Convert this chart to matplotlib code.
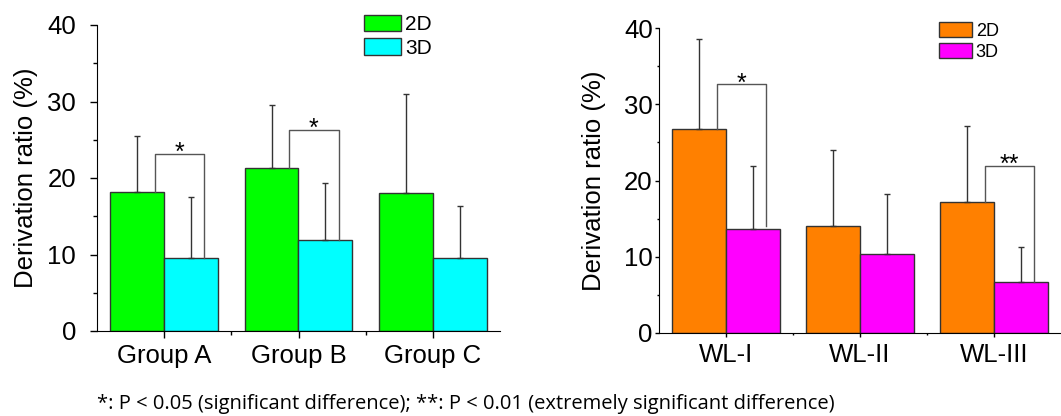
import matplotlib.pyplot as plt
import numpy as np
from matplotlib.ticker import MultipleLocator, FixedLocator

plt.rcParams['font.family'] = ['Liberation Sans', 'DejaVu Sans']

groups = ["Group A", "Group B", "Group C"]
grp_2d = [18.2, 21.3, 18.1]
grp_2d_err = [7.3, 8.3, 12.9]
grp_3d = [9.5, 11.9, 9.5]
grp_3d_err = [8.0, 7.4, 6.9]
# (category index, bracket top, left leg bottom, right leg bottom, label)
grp_sig = [(0, 23.2, 18.2, 9.5, "*"), (1, 26.3, 21.3, 11.9, "*")]

wl = ["WL-I", "WL-II", "WL-III"]
wl_2d = [26.7, 14.0, 17.2]
wl_2d_err = [11.8, 10.0, 10.0]
wl_3d = [13.6, 10.4, 6.7]
wl_3d_err = [8.3, 7.8, 4.6]
wl_sig = [(0, 32.6, 26.7, 14.0, "*"), (2, 21.9, 17.2, 6.7, "**")]

note = "*: P < 0.05 (significant difference); **: P < 0.01 (extremely significant difference)"


def draw_panel(ax, labels, v2, e2, v3, e3, sig, c2, c3, leg_anchor, leg_size, hl, hh,
               tlen, ypad, lpad):
    x = np.arange(len(labels))
    w = 0.4
    ekw = dict(ecolor="#333333", elinewidth=1.0, capsize=2.5, capthick=1.0)
    ax.bar(x - w / 2, v2, w, color=c2, edgecolor="#333333", linewidth=1.0, label="2D",
           yerr=[np.zeros(len(e2)), e2], error_kw=ekw)
    ax.bar(x + w / 2, v3, w, color=c3, edgecolor="#333333", linewidth=1.0, label="3D",
           yerr=[np.zeros(len(e3)), e3], error_kw=ekw)
    for i, top, lo1, lo2, txt in sig:
        xl, xr = i - 0.07, i + 0.3
        ax.plot([xl, xl, xr, xr], [lo1, top, top, lo2], color="#555555", lw=1.0)
        ax.text((xl + xr) / 2, top - 0.8, txt, ha="center", va="baseline", fontsize=18)
    ax.set_xlim(-0.5, 2.5)
    ax.set_ylim(0, 40)
    ax.spines["top"].set_visible(False)
    ax.spines["right"].set_visible(False)
    ax.yaxis.set_major_locator(MultipleLocator(10))
    ax.yaxis.set_minor_locator(MultipleLocator(5))
    ax.set_xticks(x)
    ax.set_xticklabels(labels)
    ax.xaxis.set_minor_locator(FixedLocator([0.5, 1.5]))
    ax.tick_params(axis="both", which="major", direction="out", length=tlen, width=1, labelsize=18.5)
    ax.tick_params(axis="both", which="minor", direction="out", length=tlen * 0.6, width=1)
    ax.tick_params(axis="y", which="major", pad=ypad)
    ax.tick_params(axis="x", which="major", pad=4)
    ax.set_ylabel("Derivation ratio (%)", fontsize=18.5, labelpad=lpad)
    ax.legend(loc="upper left", bbox_to_anchor=leg_anchor, frameon=False, fontsize=leg_size,
              handlelength=hl, handleheight=hh, handletextpad=0.2, labelspacing=0.2,
              borderpad=0, borderaxespad=0)


fig = plt.figure(figsize=(10.61, 4.16), dpi=100)
ax1 = fig.add_axes([97 / 1061, 1 - 331 / 416, 403 / 1061, 306 / 416])
ax2 = fig.add_axes([659 / 1061, 1 - 333 / 416, 402 / 1061, 305 / 416])

draw_panel(ax1, groups, grp_2d, grp_2d_err, grp_3d, grp_3d_err, grp_sig, "#00FF00", "#00FFFF",
           (0.6625, 1.034), 15, 1.78, 0.87, 5, 10, 7)
draw_panel(ax2, wl, wl_2d, wl_2d_err, wl_3d, wl_3d_err, wl_sig, "#FF8000", "#FF00FF",
           (0.6965, 1.02), 13, 1.83, 0.9, 3, 1.5, 13)

fig.text(97 / 1061, 1 - 404 / 416, note, fontsize=14.5, family=["Open Sans", "DejaVu Sans"],
         va="center", ha="left")

fig.savefig("out.png", dpi=100)
